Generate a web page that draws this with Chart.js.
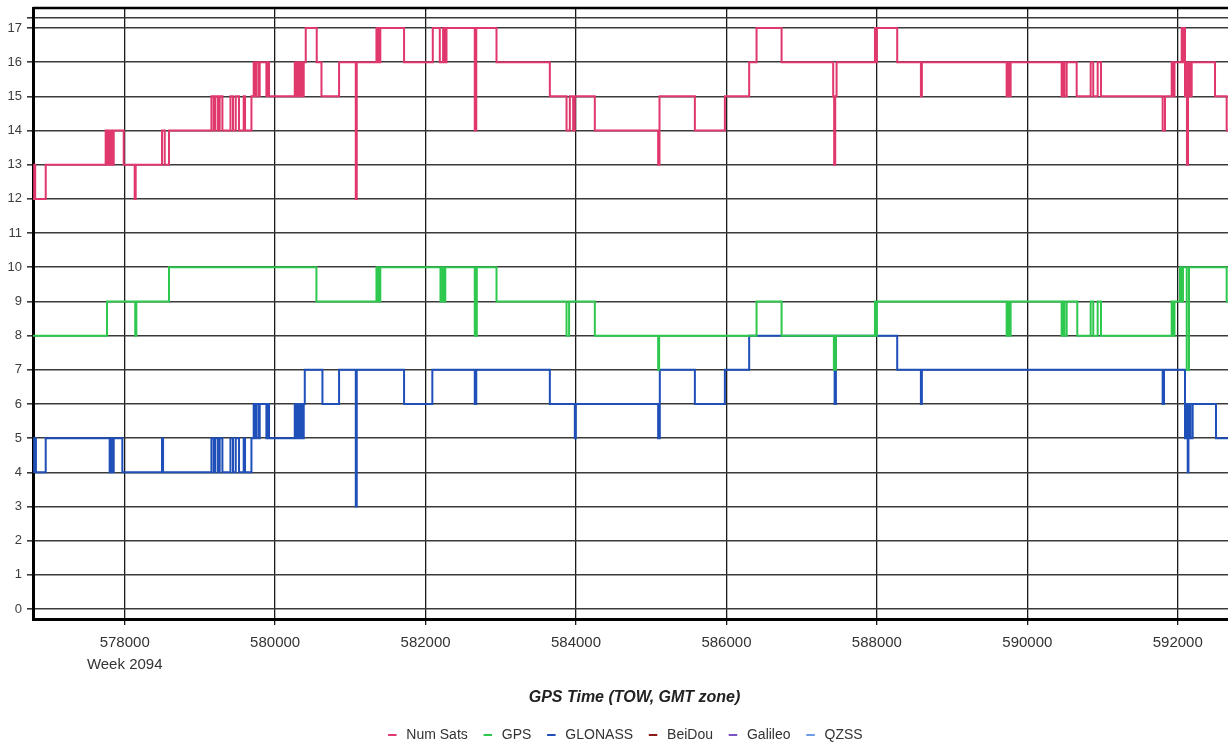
<!DOCTYPE html>
<html><head><meta charset="utf-8">
<script src="https://cdn.jsdelivr.net/npm/chart.js@4.4.1/dist/chart.umd.min.js"></script>
<style>html,body{margin:0;padding:0;background:#fff;overflow:hidden;width:1228px;height:746px}</style>
</head><body>
<canvas id="c" width="1236" height="746"></canvas>
<script>
// ---- data (GPS time of week, number of satellites) ----
const seriesNames = ['Num Sats','GPS','GLONASS','BeiDou','Galileo','QZSS'];
const seriesColors = ['#e0376c','#2ec84e','#1f4fb8','#8b1c1c','#7a52c2','#6c9de4'];

const numSatsT = [576781,576797,576810,576950,577747,577767,577787,577807,577827,577840,577854,577987,578133,578146,578496,578532,578589,579153,579184,579206,579241,579263,579299,579406,579440,579476,579520,579582,579600,579685,579715,579735,579755,579786,579795,579884,579895,579919,580261,580281,580301,580321,580340,580360,580380,580407,580553,580616,580850,581072,581085,581347,581360,581374,581387,581398,581714,582096,582189,582233,582255,582278,582654,582674,582943,583652,583874,583918,583962,583984,584250,585092,585110,585580,585979,586302,586400,586733,587419,587432,587446,587464,587974,587987,588000,588270,588585,588598,589725,589742,589762,589778,590456,590474,590493,590523,590656,590842,590876,590935,590979,591799,591830,591919,591936,591956,592052,592069,592083,592096,592109,592122,592136,592149,592162,592185,592495,592650,592774];
const numSatsV = [12,13,12,13,14,13,14,13,14,13,14,13,12,13,14,13,14,15,14,15,14,15,14,15,14,15,14,15,14,15,16,15,16,15,16,15,16,15,16,15,16,15,16,15,16,17,16,15,16,12,16,17,16,17,16,17,16,17,16,17,16,17,14,17,16,15,14,15,14,15,14,13,15,14,15,16,17,16,15,13,15,16,17,16,17,16,15,16,15,16,15,16,15,16,15,16,15,16,15,16,15,14,15,16,15,16,17,16,17,15,16,13,15,16,15,16,15,14,14];

const gpsT = [576781,577765,578140,578155,578589,580549,581347,581360,581374,581387,581398,582198,582225,582238,582262,582654,582681,582943,583874,583908,584250,585092,585105,586400,586733,587428,587455,587974,587987,588000,589725,589742,589762,589778,590456,590474,590493,590523,590664,590842,590876,590935,590979,591919,591936,591956,592029,592049,592069,592119,592149,592650,592774];
const gpsV = [8,9,8,9,10,9,10,9,10,9,10,9,10,9,10,8,10,9,8,9,8,7,8,9,8,7,8,9,8,9,8,9,8,9,8,9,8,9,8,9,8,9,8,9,8,9,10,9,10,7,10,9,9];

const glonassT = [576781,576797,576810,576820,576950,577800,577817,577835,577854,577969,578496,578510,579153,579184,579206,579241,579263,579299,579406,579440,579476,579520,579582,579600,579685,579715,579735,579755,579786,579795,579884,579895,579919,580261,580281,580301,580321,580340,580360,580380,580394,580629,580850,581072,581085,581714,582090,582654,582674,583652,583984,583997,585092,585114,585580,585979,586302,587438,587455,588270,588585,588598,591799,591817,592096,592116,592132,592142,592156,592169,592198,592508,592774];
const glonassV = [5,4,5,4,5,4,5,4,5,4,5,4,5,4,5,4,5,4,5,4,5,4,5,4,5,6,5,6,5,6,5,6,5,6,5,6,5,6,5,6,7,6,7,3,7,6,7,6,7,6,5,6,5,7,6,7,8,6,8,7,6,7,6,7,5,6,4,5,6,5,6,5,5];

const beidouT = [], beidouV = [];
const galileoT = [], galileoV = [];
const qzssT = [], qzssV = [];

const xTickValues = [578000,580000,582000,584000,586000,588000,590000,592000];
const weekLabel = 'Week 2094';
const yTickValues = [0,1,2,3,4,5,6,7,8,9,10,11,12,13,14,15,16,17,17.3];
const xMin = 576781, xMax = 592774, yMin = -0.29, yMax = 17.585;

const pts = (t, v) => t.map((x, i) => ({x, y: v[i]}));
const tv = [[numSatsT,numSatsV],[gpsT,gpsV],[glonassT,glonassV],[beidouT,beidouV],[galileoT,galileoV],[qzssT,qzssV]];

const frame = {
  id: 'frame',
  afterLayout(chart) {
    // the original legend sits slightly right of the canvas centre
    if (chart.legend) { chart.legend.left += 6; chart.legend.right += 6; }
  },
  afterDatasetsDraw(chart) {
    const {ctx, chartArea: a} = chart;
    ctx.save();
    ctx.strokeStyle = '#000';
    ctx.lineWidth = 2.5;
    ctx.beginPath();
    ctx.moveTo(a.left, a.top);
    ctx.lineTo(a.right, a.top);
    ctx.stroke();
    ctx.restore();
  }
};

const FONT = 'Liberation Sans, Arial, sans-serif';

new Chart(document.getElementById('c'), {
  type: 'line',
  data: {
    datasets: tv.map((p, i) => ({
      label: seriesNames[i],
      data: pts(p[0], p[1]),
      borderColor: seriesColors[i],
      backgroundColor: seriesColors[i],
      borderWidth: 2,
      pointRadius: 0,
      stepped: true,
      fill: false
    }))
  },
  options: {
    responsive: false,
    animation: false,
    devicePixelRatio: 1,
    layout: {padding: {top: 8, right: 0, left: 0, bottom: -6}},
    plugins: {
      legend: {
        position: 'bottom',
        labels: {
          usePointStyle: true, pointStyle: 'line',
          boxWidth: 17, boxHeight: 6, padding: 13,
          color: '#333',
          font: {family: FONT, size: 14}
        }
      },
      tooltip: {enabled: false}
    },
    scales: {
      x: {
        type: 'linear', min: xMin, max: xMax,
        afterBuildTicks: s => { s.ticks = xTickValues.map(v => ({value: v})); },
        afterFit: s => { s.height = 96; },
        ticks: {
          includeBounds: false, maxRotation: 0, autoSkip: false, padding: 7,
          color: '#333',
          font: {family: FONT, size: 15, lineHeight: 1.4667},
          callback: v => v === xTickValues[0] ? [String(v), weekLabel] : String(v)
        },
        grid: {color: '#1a1a1a', lineWidth: 1.3, tickLength: 6, drawTicks: true},
        border: {color: '#000', width: 3},
        title: {
          display: true, text: 'GPS Time (TOW, GMT zone)', color: '#222',
          font: {family: FONT, size: 16, weight: 'bold', style: 'italic'},
          padding: {top: 0, bottom: 8}
        }
      },
      y: {
        type: 'linear', min: yMin, max: yMax,
        afterBuildTicks: s => { s.ticks = yTickValues.map(v => ({value: v})); },
        afterFit: s => { s.width = 33; },
        ticks: {
          padding: 5, color: '#3c3c3c',
          font: {family: FONT, size: 13, lineHeight: 0.4},
          callback: v => Number.isInteger(v) ? String(v) : ''
        },
        grid: {color: '#3a3a3a', lineWidth: 1.6, tickLength: 6},
        border: {color: '#000', width: 3}
      }
    }
  },
  plugins: [frame]
});
</script>
</body></html>
